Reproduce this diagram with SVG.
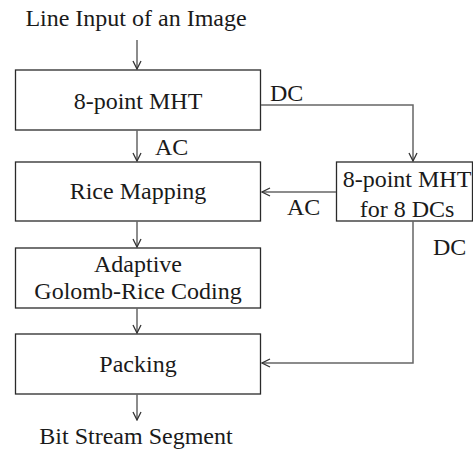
<svg xmlns="http://www.w3.org/2000/svg" width="473" height="450" viewBox="0 0 473 450">
<style>
.box{fill:#fff;stroke:#2a2a2a;stroke-width:1.3}
text{font-family:'Liberation Serif','Times New Roman',serif;font-size:24px;fill:#1a1a1a}
.m{text-anchor:middle}
.c{fill:none;stroke:#666;stroke-width:1.5}
</style>
<defs>
<marker id="ah" viewBox="0 0 10 10" refX="9" refY="5" markerWidth="10" markerHeight="10" markerUnits="userSpaceOnUse" orient="auto">
<path d="M1,1 L9,5 L1,9" fill="none" stroke="#333" stroke-width="1.3"/>
</marker>
</defs>
<text class="m" x="136" y="26">Line Input of an Image</text>
<g id="n1"><rect class="box" x="15.5" y="70" width="245" height="60"/><text class="m" x="138" y="109">8-point MHT</text></g>
<g id="n2"><rect class="box" x="15.5" y="162" width="245" height="59"/><text class="m" x="138" y="199">Rice Mapping</text></g>
<g id="n3"><rect class="box" x="15.5" y="248" width="245" height="60"/><text class="m" x="138" y="272">Adaptive</text><text class="m" x="138" y="299">Golomb-Rice Coding</text></g>
<g id="n4"><rect class="box" x="15.5" y="334" width="245" height="60"/><text class="m" x="138" y="372">Packing</text></g>
<g id="n5"><rect class="box" x="336.5" y="162" width="136" height="59"/><text class="m" x="407" y="187">8-point MHT</text><text class="m" x="407" y="217">for 8 DCs</text></g>
<text class="m" x="136" y="444">Bit Stream Segment</text>
<g id="connectors">
<path class="c" d="M137,40 V69" marker-end="url(#ah)"/>
<path class="c" d="M137,130 V161" marker-end="url(#ah)"/>
<path class="c" d="M137,221 V247" marker-end="url(#ah)"/>
<path class="c" d="M137,308 V333" marker-end="url(#ah)"/>
<path class="c" d="M137,394 V420" marker-end="url(#ah)"/>
<path class="c" d="M261,105 H413 V161" marker-end="url(#ah)"/>
<path class="c" d="M336,192 H262" marker-end="url(#ah)"/>
<path class="c" d="M413,221 V363 H262" marker-end="url(#ah)"/>
<text x="270" y="101">DC</text>
<text x="155" y="155">AC</text>
<text x="287" y="215">AC</text>
<text x="433" y="255">DC</text>
</g>
</svg>
